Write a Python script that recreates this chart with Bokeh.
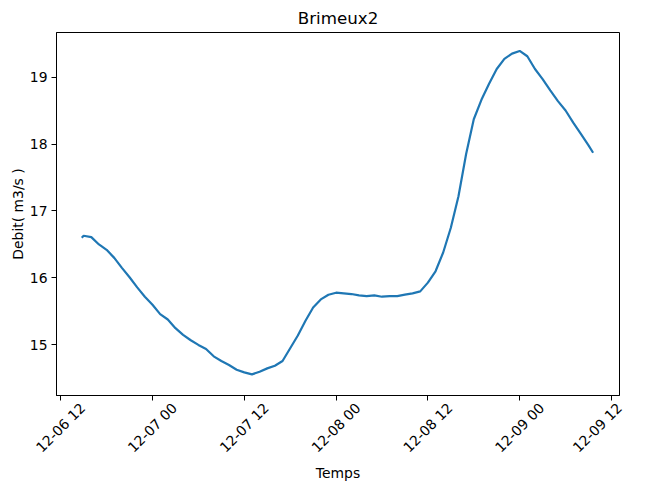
import math
import pandas as pd
from bokeh.plotting import figure
from bokeh.models import Range1d, FixedTicker, DatetimeAxis
from bokeh.embed import file_html
from bokeh.resources import INLINE

# ---- data (hours after 2021-12-06 12:00, Debit m3/s)
hours = [2.75, 3, 4, 5, 6, 7, 8, 9, 10, 11, 12, 13, 14, 15, 16, 17, 18, 19, 20,
         21, 22, 23, 24, 25, 26, 27, 28, 29, 30, 31, 32, 33, 34, 35, 36, 37, 38,
         39, 40, 41, 42, 43, 44, 45, 46, 47, 48, 49, 50, 51, 52, 53, 54, 55, 56,
         57, 58, 59, 60, 61, 62, 63, 64, 65, 66, 67, 68, 69, 69.6]
debit = [16.60, 16.63, 16.61, 16.50, 16.42, 16.30, 16.15, 16.01, 15.86, 15.72,
         15.60, 15.46, 15.38, 15.25, 15.15, 15.07, 15.00, 14.94, 14.83, 14.76,
         14.70, 14.63, 14.59, 14.56, 14.60, 14.65, 14.69, 14.76, 14.95, 15.14,
         15.36, 15.56, 15.68, 15.75, 15.78, 15.77, 15.76, 15.74, 15.73, 15.74,
         15.72, 15.73, 15.73, 15.75, 15.77, 15.80, 15.93, 16.10, 16.38, 16.75,
         17.22, 17.85, 18.37, 18.66, 18.90, 19.12, 19.27, 19.35, 19.39, 19.31,
         19.12, 18.97, 18.80, 18.64, 18.50, 18.32, 18.15, 17.98, 17.87]
origin = "2021-12-06 12:00"
tick_times = ["2021-12-06 12:00", "2021-12-07 00:00", "2021-12-07 12:00",
              "2021-12-08 00:00", "2021-12-08 12:00", "2021-12-09 00:00",
              "2021-12-09 12:00"]
tick_labels = ["12-06 12", "12-07 00", "12-07 12", "12-08 00", "12-08 12",
               "12-09 00", "12-09 12"]
y_ticks = [15, 16, 17, 18, 19]
x_limits = ["2021-12-06 11:27", "2021-12-09 13:03"]
y_limits = [14.245, 19.665]

def ms(s):
    return int(pd.Timestamp(s).value // 1_000_000)

t0 = pd.Timestamp(origin)
times = [t0 + pd.Timedelta(hours=h) for h in hours]

FONT = "DejaVu Sans"
FS = "13.9px"
FRAME_W = 563

p = figure(frame_width=FRAME_W, frame_height=363,
           min_border_left=56, min_border_right=12,
           min_border_top=25, min_border_bottom=85,
           x_axis_type="datetime",
           x_range=Range1d(ms(x_limits[0]), ms(x_limits[1])),
           y_range=Range1d(*y_limits),
           output_backend="svg", toolbar_location=None,
           title="Brimeux2")

p.line(times, debit, line_color="#1f77b4", line_width=2.2)

p.title.align = "center"
p.title.text_font = FONT
p.title.text_font_size = "16.7px"
p.title.text_font_style = "normal"
p.title.text_color = "black"

p.grid.visible = False
p.outline_line_color = "black"
p.outline_line_alpha = 1
p.outline_line_width = 1

p.xaxis.ticker = FixedTicker(ticks=[ms(t) for t in tick_times])
p.yaxis.ticker = FixedTicker(ticks=y_ticks)
p.yaxis.axis_label = "Debit( m3/s )"

for ax in (p.xaxis, p.yaxis):
    ax.axis_line_color = "black"
    ax.major_tick_line_color = "black"
    ax.major_tick_in = 0
    ax.major_tick_out = 5
    ax.minor_tick_line_color = None
    ax.major_label_text_font = FONT
    ax.major_label_text_font_size = FS
    ax.major_label_text_color = "black"
    ax.axis_label_text_font = FONT
    ax.axis_label_text_font_size = FS
    ax.axis_label_text_font_style = "normal"
    ax.axis_label_text_color = "black"
    ax.major_label_standoff = 4
    ax.axis_label_standoff = 1

# primary x axis: only the tick marks
p.xaxis.major_label_overrides = {ms(t): "" for t in tick_times}
p.xaxis.major_label_standoff = 0

# second x axis: labels rotated 45 deg, centred on the ticks (matplotlib style);
# Bokeh anchors a rotated label at its end, so the anchors are moved right by
# half the label's horizontal extent (kept inside the range for the last one).
span_ms = ms(x_limits[1]) - ms(x_limits[0])
shift = round(22.0 / FRAME_W * span_ms)
last_ok = ms(x_limits[1]) - 60_000
lab_pos = [min(ms(t) + shift, last_ok) for t in tick_times]
ax2 = DatetimeAxis(ticker=FixedTicker(ticks=lab_pos),
                   major_label_overrides={v: l for v, l in zip(lab_pos, tick_labels)},
                   major_label_orientation=math.pi / 4,
                   axis_line_color=None, major_tick_line_color=None,
                   minor_tick_line_color=None,
                   major_tick_in=0, major_tick_out=0,
                   major_label_standoff=5,
                   major_label_text_font=FONT, major_label_text_font_size=FS,
                   major_label_text_color="black",
                   axis_label="Temps", axis_label_standoff=1,
                   axis_label_text_font=FONT, axis_label_text_font_size=FS,
                   axis_label_text_font_style="normal",
                   axis_label_text_color="black")
p.add_layout(ax2, "below")

open("out.html", "w").write(file_html(p, INLINE))
